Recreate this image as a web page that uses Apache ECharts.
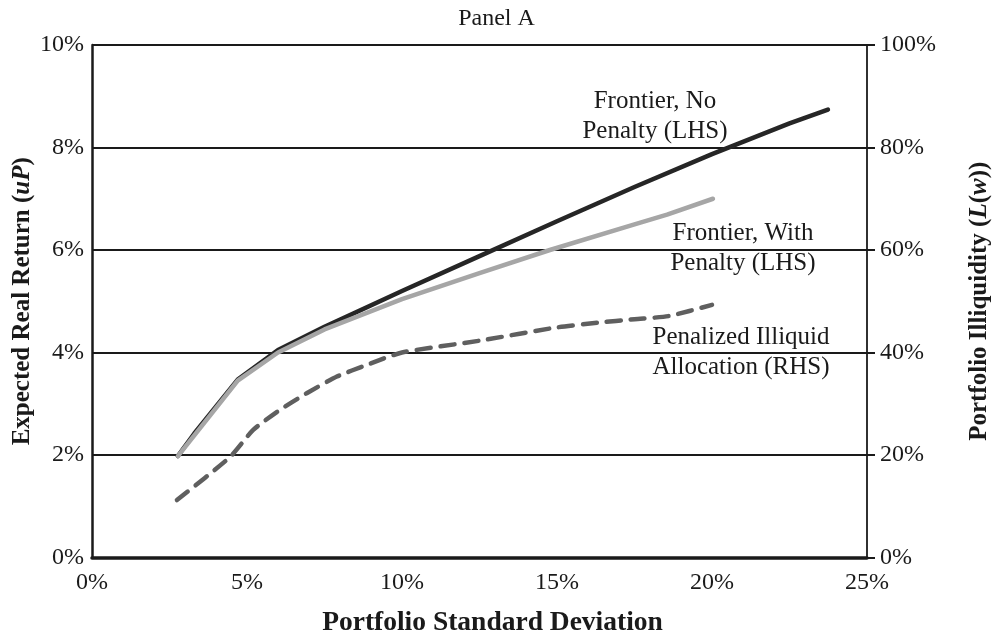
<!DOCTYPE html>
<html>
<head>
<meta charset="utf-8">
<script src="https://cdn.jsdelivr.net/npm/echarts@6/dist/echarts.min.js"></script>
<style>
  html, body { margin: 0; padding: 0; background: #fff; }
  #chart { width: 993px; height: 638px; }
</style>
</head>
<body>
<div id="chart"></div>
<script>
// Portfolio standard deviation (%) and expected real return (%) – frontier without penalty
const sdNoPenalty = [2.77, 3.3, 4.7, 6.0, 7.5, 10, 12.5, 15, 17.5, 20, 22.5, 23.74];
const retNoPenalty = [1.98, 2.42, 3.47, 4.05, 4.5, 5.2, 5.88, 6.56, 7.23, 7.87, 8.47, 8.74];

// Frontier with illiquidity penalty
const sdWithPenalty = [2.77, 4.7, 6.0, 7.5, 10, 12.5, 14.77, 17.5, 18.55, 20.03];
const retWithPenalty = [1.98, 3.45, 4.0, 4.45, 5.04, 5.55, 6.0, 6.5, 6.69, 7.0];

// Penalized illiquid allocation (% of portfolio, right axis)
const sdIlliquid = [2.74, 4.45, 5.2, 6.06, 6.94, 7.9, 8.87, 10, 12.5, 15, 16.3, 17.5, 18.6, 20];
const illiquidAlloc = [11.2, 19.6, 24.9, 28.8, 32.1, 35.3, 37.6, 40.0, 42.3, 44.9, 45.8, 46.5, 47.1, 49.3];

// Axis ticks
const xTicks = [0, 5, 10, 15, 20, 25];
const leftTicks = [0, 2, 4, 6, 8, 10];
const rightTicks = [0, 20, 40, 60, 80, 100];

const pairs = (xs, ys) => xs.map((x, i) => [x, ys[i]]);

const serif = '"Liberation Serif", "Times New Roman", serif';
const ink = '#1a1a1a';

const nameRich = {
  b: { fontFamily: serif, fontWeight: 'bold', fontSize: 25, color: ink },
  i: { fontFamily: serif, fontWeight: 'bold', fontStyle: 'italic', fontSize: 25, color: ink }
};

const chart = echarts.init(document.getElementById('chart'));
chart.setOption({
  backgroundColor: '#ffffff',
  animation: false,
  title: {
    text: 'Panel A',
    left: 'center',
    top: 2,
    textStyle: { fontFamily: serif, fontWeight: 'normal', fontSize: 24, color: ink }
  },
  grid: { left: 92, right: 126, top: 45, bottom: 80.5, containLabel: false, outerBoundsMode: 'none' },
  xAxis: {
    type: 'value',
    min: xTicks[0],
    max: xTicks[xTicks.length - 1],
    interval: 5,
    name: 'Portfolio Standard Deviation',
    nameLocation: 'middle',
    nameGap: 51,
    nameMoveOverlap: false,
    nameTextStyle: { fontFamily: serif, fontWeight: 'bold', fontSize: 27.5, color: ink, padding: [0, 0, 0, 26] },
    axisLine: { show: true, lineStyle: { color: ink, width: 3.5 } },
    axisTick: { show: false },
    splitLine: { show: false },
    axisLabel: { formatter: '{value}%', fontFamily: serif, fontSize: 24, color: ink, margin: 13 }
  },
  yAxis: [
    {
      type: 'value',
      position: 'left',
      min: leftTicks[0],
      max: leftTicks[leftTicks.length - 1],
      interval: 2,
      name: '{b|Expected Real Return (}{i|uP}{b|)}',
      nameLocation: 'middle',
      nameGap: 57,
      nameRotate: 90,
      nameMoveOverlap: false,
      nameTextStyle: { rich: nameRich },
      axisLine: { show: true, lineStyle: { color: ink, width: 2.5 } },
      axisTick: { show: false },
      splitLine: { show: true, lineStyle: { color: ink, width: 2 } },
      axisLabel: { formatter: '{value}%', fontFamily: serif, fontSize: 24, color: ink, margin: 8 }
    },
    {
      type: 'value',
      position: 'right',
      min: rightTicks[0],
      max: rightTicks[rightTicks.length - 1],
      interval: 20,
      name: '{b|Portfolio Illiquidity (}{i|L}{b|(}{i|w}{b|))}',
      nameLocation: 'middle',
      nameGap: 100,
      nameRotate: 90,
      nameMoveOverlap: false,
      nameTextStyle: { rich: nameRich },
      axisLine: { show: true, lineStyle: { color: ink, width: 1.8 } },
      axisTick: { show: true, inside: false, length: 8, lineStyle: { color: ink, width: 2 } },
      splitLine: { show: false },
      axisLabel: { formatter: '{value}%', fontFamily: serif, fontSize: 24, color: ink, margin: 13 }
    }
  ],
  series: [
    {
      name: 'Frontier, No Penalty (LHS)',
      type: 'line',
      yAxisIndex: 0,
      data: pairs(sdNoPenalty, retNoPenalty),
      showSymbol: false,
      lineStyle: { color: '#262626', width: 4.5, cap: 'round', join: 'round' },
      z: 4
    },
    {
      name: 'Frontier, With Penalty (LHS)',
      type: 'line',
      yAxisIndex: 0,
      data: pairs(sdWithPenalty, retWithPenalty),
      showSymbol: false,
      lineStyle: { color: '#a6a6a6', width: 4.5, cap: 'round', join: 'round' },
      z: 5
    },
    {
      name: 'Penalized Illiquid Allocation (RHS)',
      type: 'line',
      yAxisIndex: 1,
      data: pairs(sdIlliquid, illiquidAlloc),
      showSymbol: false,
      smooth: 0.2,
      lineStyle: { color: '#5f5f5f', width: 4.5, type: [14, 10], cap: 'round', join: 'round' },
      z: 3
    }
  ],
  graphic: [
    {
      type: 'text', x: 655, y: 86,
      style: { text: 'Frontier, No\nPenalty (LHS)', fontFamily: serif, fontSize: 25, fill: ink, align: 'center', verticalAlign: 'top', lineHeight: 30 }
    },
    {
      type: 'text', x: 743, y: 218,
      style: { text: 'Frontier, With\nPenalty (LHS)', fontFamily: serif, fontSize: 25, fill: ink, align: 'center', verticalAlign: 'top', lineHeight: 30 }
    },
    {
      type: 'text', x: 741, y: 322,
      style: { text: 'Penalized Illiquid\nAllocation (RHS)', fontFamily: serif, fontSize: 25, fill: ink, align: 'center', verticalAlign: 'top', lineHeight: 30 }
    }
  ]
});
</script>
</body>
</html>
